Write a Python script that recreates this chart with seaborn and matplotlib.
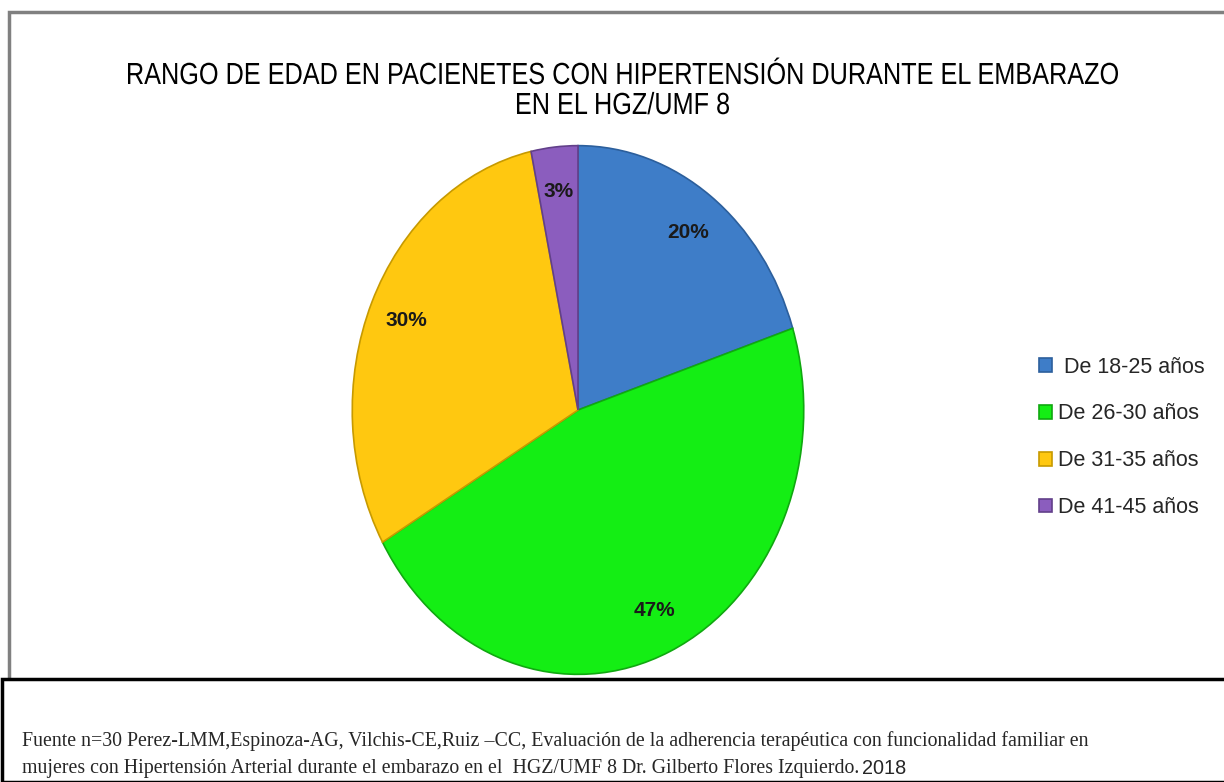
import matplotlib
matplotlib.use("Agg")
import matplotlib.pyplot as plt
import seaborn as sns
from matplotlib.patches import Rectangle, PathPatch
from matplotlib.textpath import TextPath
from matplotlib.font_manager import FontProperties
from matplotlib.transforms import Affine2D, IdentityTransform

sns.set_theme(style="white")
plt.rcParams['font.family'] = ['Liberation Sans', 'DejaVu Sans']

# data (n=30 pacientes)
rangos = [" De 18-25 años", "De 26-30 años", "De 31-35 años", "De 41-45 años"]
pacientes = [6, 14, 9, 1]
colores = ["#3E7DC8", "#14EE14", "#FFC810", "#8B5DBE"]
bordes = ["#2C5F9C", "#10A810", "#C79A00", "#62408A"]

titulo = ["RANGO DE EDAD EN PACIENETES CON HIPERTENSIÓN DURANTE EL EMBARAZO",
          "EN EL HGZ/UMF 8"]
fuente_1 = ("Fuente n=30 Perez-LMM,Espinoza-AG, Vilchis-CE,Ruiz \u2013CC, Evaluación de la adherencia "
            "terapéutica con funcionalidad familiar en")
fuente_2 = "mujeres con Hipertensión Arterial durante el embarazo en el  HGZ/UMF 8 Dr. Gilberto Flores Izquierdo."

W, H = 1224, 782
fig = plt.figure(figsize=(W / 100, H / 100), dpi=100)

# frame of the chart area and footer box
fig.patches.append(Rectangle((9 / W, 1 - 680 / H), 1.5, 668 / H, transform=fig.transFigure,
                             fill=False, edgecolor="#808080", linewidth=2.5))
fig.patches.append(Rectangle((2 / W, 0.0), 1.5, 1 - 679 / H, transform=fig.transFigure,
                             fill=True, facecolor="white", edgecolor="black", linewidth=2.5,
                             zorder=5))

ax = fig.add_axes([350 / W, 1 - 677 / H, 456 / W, 534 / H])
wedges, texts, autotexts = ax.pie(
    pacientes, colors=colores, startangle=90, counterclock=False,
    autopct='%.0f%%', pctdistance=0.83,
    wedgeprops=dict(linewidth=1.2),
    textprops=dict(fontsize=15, fontweight='bold', color='#1a1a1a'))
for w, b in zip(wedges, bordes):
    w.set_edgecolor(b)
ax.set_aspect('auto')
ax.set_xlim(-1.01, 1.01)
ax.set_ylim(-1.01, 1.01)
ax.axis('off')

# condensed title (Arial Narrow look): text paths squeezed horizontally
prop = FontProperties(family='Liberation Sans')
cap = TextPath((0, 0), "H", size=100, prop=prop).get_extents().height
size = 100 * 21 / cap
sx = None
for linea, base in zip(titulo, [84, 114]):
    tp = TextPath((0, 0), linea, size=size, prop=prop)
    ext = tp.get_extents()
    if sx is None:
        sx = 990 / ext.width
    tr = Affine2D().scale(sx, 1).translate(623 - (ext.x0 + ext.width / 2) * sx, H - base)
    fig.add_artist(PathPatch(tr.transform_path(tp), facecolor='black', edgecolor='none',
                             transform=IdentityTransform()))

leg = fig.legend(wedges, rangos, loc='upper left', bbox_to_anchor=(1030 / W, 1 - 348 / H),
                 frameon=False, fontsize=15.5, handlelength=0.6, handleheight=0.6,
                 handletextpad=0.3, labelspacing=1.2, borderaxespad=0)

fig.text(22 / W, 1 - 741 / H, fuente_1, ha='left', va='center', fontsize=14.3,
         family=['Liberation Serif'], zorder=6)
t2 = fig.text(22 / W, 1 - 769 / H, fuente_2, ha='left', va='center', fontsize=14.3,
              family=['Liberation Serif'], zorder=6)
fig.canvas.draw()
bb = t2.get_window_extent()
fig.text((bb.x1 + 3) / W, 1 - 769 / H, "2018", ha='left', va='center', fontsize=14.3,
         family=['Liberation Sans'], zorder=6)

fig.savefig("out.png", dpi=100)
